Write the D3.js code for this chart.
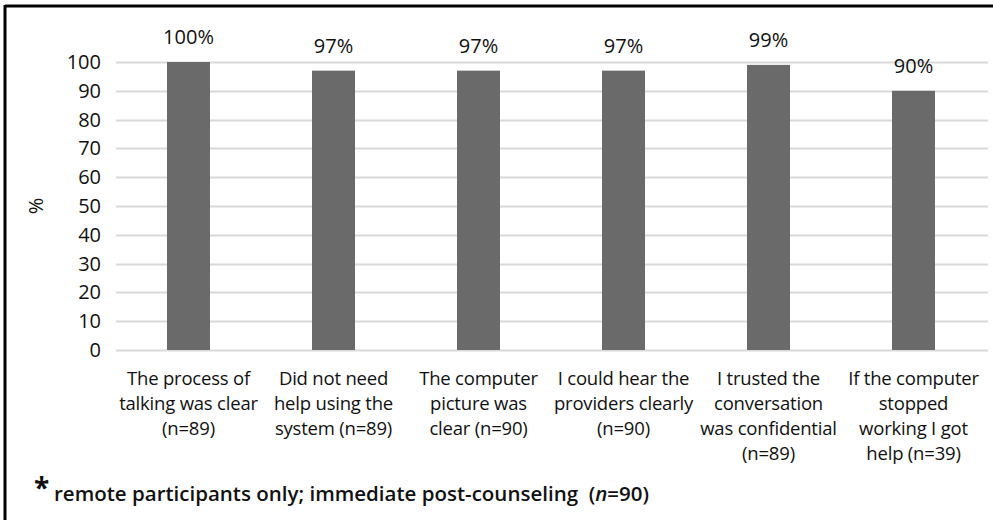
<!DOCTYPE html>
<html><head><meta charset="utf-8">
<script src="https://cdn.jsdelivr.net/npm/d3@7"></script>
<style>
html,body{margin:0;padding:0;background:#fff;}
svg{display:block;font-family:"Open Sans",sans-serif;}
</style></head>
<body>
<script>
const categories = [
  ["The process of","talking was clear","(n=89)"],
  ["Did not need","help using the","system (n=89)"],
  ["The computer","picture was","clear (n=90)"],
  ["I could hear the","providers clearly","(n=90)"],
  ["I trusted the","conversation","was confidential","(n=89)"],
  ["If the computer","stopped","working I got","help (n=39)"]
];
const values = [100, 97, 97, 97, 99, 90];
const valueLabels = ["100%","97%","97%","97%","99%","90%"];
const yTicks = [0,10,20,30,40,50,60,70,80,90,100];

const W = 993, H = 520;
const svg = d3.select("body").append("svg").attr("width", W).attr("height", H);

// frame (top and left black border)
svg.append("line").attr("x1",5).attr("x2",W).attr("y1",6).attr("y2",6).attr("stroke","#000").attr("stroke-width",3);
svg.append("line").attr("x1",5).attr("x2",5).attr("y1",5).attr("y2",H).attr("stroke","#000").attr("stroke-width",3);

const pLeft = 116, pRight = 986, pTop = 62, pBottom = 350;
const x = d3.scaleBand().domain(d3.range(categories.length)).range([pLeft, pRight]).padding(0);
const y = d3.scaleLinear().domain([0,100]).range([pBottom, pTop]);
const txt = "#111";

// gridlines
svg.append("g").selectAll("line").data(yTicks).join("line")
  .attr("x1", pLeft).attr("x2", pRight + 2)
  .attr("y1", d => Math.round(y(d)) + 0.5).attr("y2", d => Math.round(y(d)) + 0.5)
  .attr("stroke", "#d9d9d9").attr("stroke-width", 2);

// y axis labels
const yAxis = d3.axisLeft(y).tickValues(yTicks).tickSize(0).tickPadding(0);
const ya = svg.append("g").attr("transform", `translate(101,0)`).call(yAxis);
ya.select(".domain").remove();
ya.selectAll("text").attr("font-size", 20).attr("font-weight", 500).attr("fill", txt).attr("font-family", "Open Sans, sans-serif");

// y title
svg.append("text").attr("transform", "translate(43,206) rotate(-90)")
  .attr("text-anchor", "middle").attr("font-size", 20).attr("font-weight", 500).attr("fill", txt).text("%");

// bars
const bw = 43;
svg.append("g").selectAll("rect").data(values).join("rect")
  .attr("x", (d,i) => x(i) + x.bandwidth()/2 - bw/2)
  .attr("width", bw)
  .attr("y", d => y(d))
  .attr("height", d => y(0) - y(d))
  .attr("fill", "#6a6a6a");

// value labels
svg.append("g").selectAll("text").data(values).join("text")
  .attr("x", (d,i) => x(i) + x.bandwidth()/2)
  .attr("y", d => y(d) - 18)
  .attr("text-anchor", "middle").attr("font-size", 20).attr("font-weight", 500).attr("fill", txt)
  .text((d,i) => valueLabels[i]);

// category labels
const cg = svg.append("g").selectAll("text").data(categories).join("text")
  .attr("x", (d,i) => x(i) + x.bandwidth()/2)
  .attr("y", 385)
  .attr("text-anchor", "middle").attr("font-size", 18.5).attr("font-weight", 500).attr("fill", txt)
  .attr("letter-spacing", "-0.2");
cg.selectAll("tspan").data(d => d).join("tspan")
  .attr("x", function(){ return d3.select(this.parentNode).attr("x"); })
  .attr("dy", (d,j) => j === 0 ? 0 : 25)
  .text(d => d);

// footnote
svg.append("text").attr("x", 34).attr("y", 498).attr("font-size", 28).attr("font-weight", "bold").attr("fill", txt).text("*");
const fn = svg.append("text").attr("x", 54).attr("y", 501).attr("font-size", 20.5).attr("font-weight", 600).attr("fill", txt);
fn.append("tspan").text("remote participants only; immediate post-counseling\u00a0\u00a0(");
fn.append("tspan").attr("font-style", "italic").text("n");
fn.append("tspan").text("=90)");
</script>
</body></html>
